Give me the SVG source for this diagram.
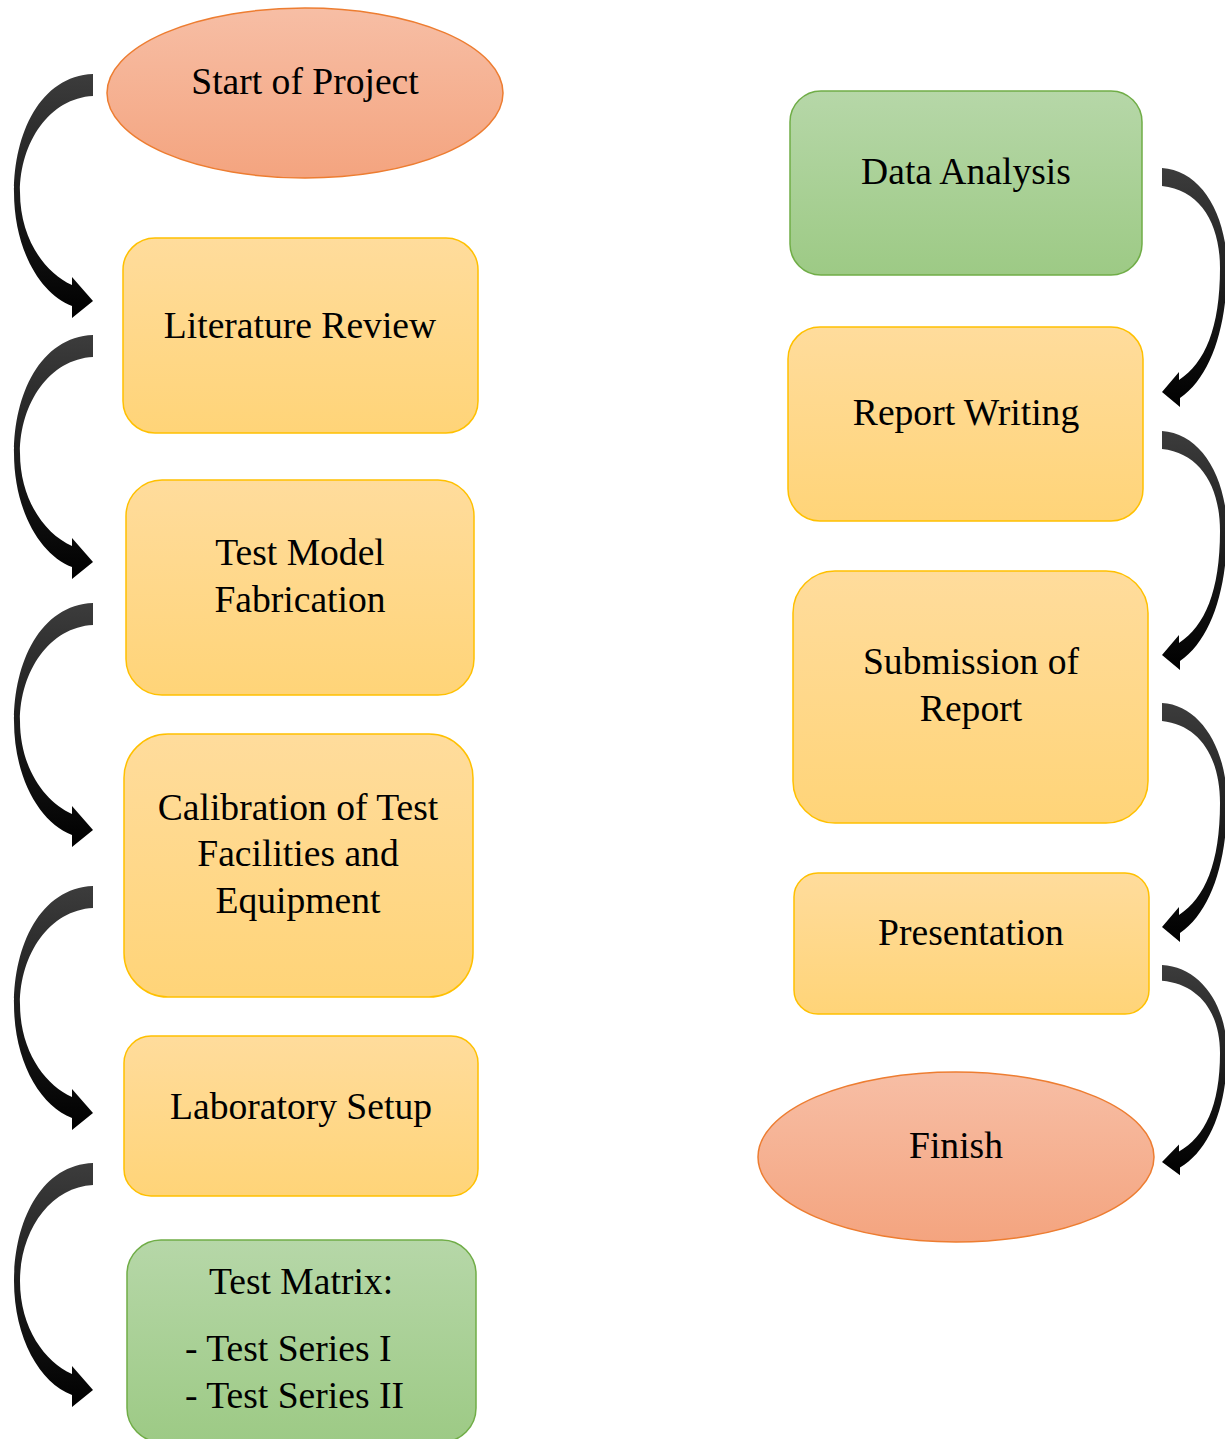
<svg xmlns="http://www.w3.org/2000/svg" width="1225" height="1439" viewBox="0 0 1225 1439">
<style>
text{font-family:"Liberation Serif","Times New Roman",serif;font-size:37.6px;fill:#000;text-anchor:middle}
.or{fill:url(#gOr);stroke:#ED7D31;stroke-width:1.5}
.ye{fill:url(#gYe);stroke:#FFC000;stroke-width:1.5}
.gr{fill:url(#gGr);stroke:#70AD47;stroke-width:1.5}
.arr{fill:url(#gAr)}
</style>
<defs>
<linearGradient id="gOr" x1="0" y1="0" x2="0" y2="1"><stop offset="0" stop-color="#F7BEA5"/><stop offset="1" stop-color="#F4A47F"/></linearGradient>
<linearGradient id="gYe" x1="0" y1="0" x2="0" y2="1"><stop offset="0" stop-color="#FFDC9C"/><stop offset="1" stop-color="#FFD478"/></linearGradient>
<linearGradient id="gGr" x1="0" y1="0" x2="0" y2="1"><stop offset="0" stop-color="#B6D7A8"/><stop offset="1" stop-color="#9DCA85"/></linearGradient>
<linearGradient id="gAr" x1="0" y1="0" x2="0" y2="1"><stop offset="0" stop-color="#3C3C3C"/><stop offset="0.55" stop-color="#1A1A1A"/><stop offset="1" stop-color="#000"/></linearGradient>
<path id="la" class="arr" d="M93,0 C40,2 14,60 14,118 C14,175 40,220 72,232 L72,244 L93,227 L72,203 L72,211 C45,199 20,165 20,118 C20,68 50,24 93,22 Z"/>
<path id="ra" class="arr" d="M1162,0 C1200,2 1227,45 1227,100 C1227,160 1210,210 1180,230 L1180,239 L1162,224 L1179,204 L1179,212 C1205,195 1220,160 1220,100 C1220,55 1200,22 1162,18 Z"/>
</defs>

<g id="connectors">
<use href="#la" transform="translate(0,74)"/>
<use href="#la" transform="translate(0,335)"/>
<use href="#la" transform="translate(0,603)"/>
<use href="#la" transform="translate(0,886)"/>
<use href="#la" transform="translate(0,1163)"/>
<use href="#ra" transform="translate(0,168)"/>
<use href="#ra" transform="translate(0,431)"/>
<use href="#ra" transform="translate(0,703)"/>
<use href="#ra" transform="translate(0,965) scale(1,0.88)"/>
</g>

<g id="start">
<ellipse class="or" cx="305" cy="93" rx="198" ry="85"/>
<text x="305" y="94">Start of Project</text>
</g>
<g id="literature">
<rect class="ye" x="123" y="238" width="355" height="195" rx="32"/>
<text x="300" y="338">Literature Review</text>
</g>
<g id="fabrication">
<rect class="ye" x="126" y="480" width="348" height="215" rx="36"/>
<text x="300" y="565">Test Model</text>
<text x="300" y="612">Fabrication</text>
</g>
<g id="calibration">
<rect class="ye" x="124" y="734" width="349" height="263" rx="44"/>
<text x="298" y="820">Calibration of Test</text>
<text x="298" y="866">Facilities and</text>
<text x="298" y="913">Equipment</text>
</g>
<g id="lab">
<rect class="ye" x="124" y="1036" width="354" height="160" rx="27"/>
<text x="301" y="1119">Laboratory Setup</text>
</g>
<g id="matrix">
<rect class="gr" x="127" y="1240" width="349" height="202" rx="34"/>
<text x="301" y="1294">Test Matrix:</text>
<text x="185" y="1361" style="text-anchor:start">- Test Series I</text>
<text x="185" y="1408" style="text-anchor:start">- Test Series II</text>
</g>
<g id="analysis">
<rect class="gr" x="790" y="91" width="352" height="184" rx="31"/>
<text x="966" y="184">Data Analysis</text>
</g>
<g id="writing">
<rect class="ye" x="788" y="327" width="355" height="194" rx="32"/>
<text x="966" y="425">Report Writing</text>
</g>
<g id="submission">
<rect class="ye" x="793" y="571" width="355" height="252" rx="42"/>
<text x="971" y="674">Submission of</text>
<text x="971" y="721">Report</text>
</g>
<g id="presentation">
<rect class="ye" x="794" y="873" width="355" height="141" rx="24"/>
<text x="971" y="945">Presentation</text>
</g>
<g id="finish">
<ellipse class="or" cx="956" cy="1157" rx="198" ry="85"/>
<text x="956" y="1158">Finish</text>
</g>
</svg>
